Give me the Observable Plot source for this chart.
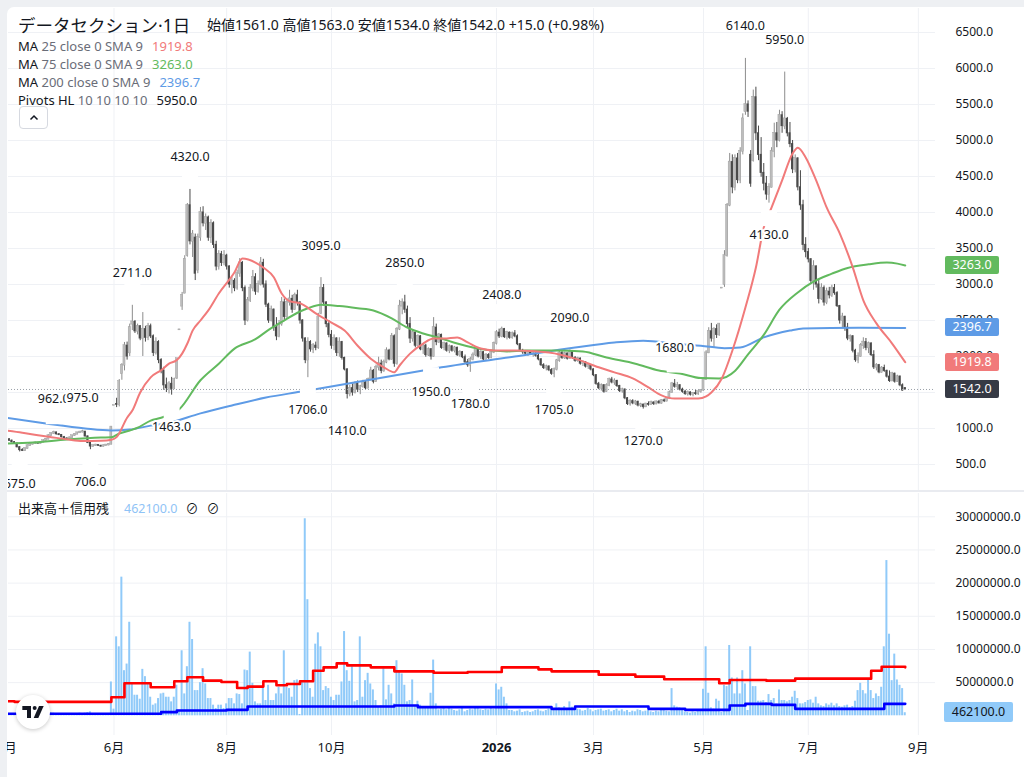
<!DOCTYPE html>
<html><head><meta charset="utf-8">
<script src="https://cdn.jsdelivr.net/npm/d3@7"></script>
<script src="https://cdn.jsdelivr.net/npm/@observablehq/plot@0.6"></script>
<style>
html,body{margin:0;padding:0;}
body{width:1024px;height:777px;overflow:hidden;background:#eef0f3;position:relative;font-family:"Noto Sans","Noto Sans CJK JP",sans-serif;color:#131722;}
#panel{position:absolute;left:7px;top:7px;width:1017px;height:770px;background:#fff;border-top-left-radius:7px;}
.abs{position:absolute;white-space:nowrap;}
#mainWrap,#volWrap{position:absolute;left:0;width:1024px;}
#mainWrap{top:0;height:492px;}
#volWrap{top:493px;height:284px;}
svg{overflow:visible}
#sep{position:absolute;left:7px;top:490px;width:1017px;height:2px;background:#e9ebf0;}
.badge{position:absolute;height:18px;line-height:18px;text-align:center;font-size:12.5px;color:#fff;border-radius:2px;}
#edgeL{position:absolute;left:0;top:0;width:7px;height:777px;background:#eef0f3;}
#edgeT{position:absolute;left:0;top:0;width:1024px;height:7px;background:#eef0f3;}
.gray{color:#6a6d78;}
</style></head><body>
<div id="panel"></div>
<div id="mainWrap"></div>
<div id="sep"></div>
<div id="volWrap"></div>
<div id="header"></div>
<div id="edgeL"></div><div id="edgeT"></div>
<script>
// ---------- data ----------
const titleText = "データセクション·1日";
const ohlcLabels = ["始値","高値","安値","終値"];
const ohlcValues = [1561.0, 1563.0, 1534.0, 1542.0];
const changeText = "+15.0 (+0.98%)";
const legendNames = ["MA","MA","MA","Pivots HL"];
const legendParams = ["25 close 0 SMA 9","75 close 0 SMA 9","200 close 0 SMA 9","10 10 10 10"];
const legendValues = ["1919.8","3263.0","2396.7","5950.0"];
const volTitle = "出来高＋信用残";
const volValueText = "462100.0";

const opens = [
870,850,830,810,790,740,700,690,720,760, 780,790,800,790,810,830,850,900,930,945,
920,910,880,860,850,870,900,920,940,950, 955,890,800,750,760,770,760,750,760,770,
780,1320,1340,1330,1760,1880,2150,2050,2450,2480, 2350,2420,2250,2380,2260,2420,2280,2050,2200,1950,
1800,1600,1560,1620,1560,1700,2370,2700,2880,3400, 4100,3600,3650,3200,3650,4000,3850,3930,3650,3850,
3550,3250,3420,3300,3400,3250,3000,3050,2950,3150, 3300,2950,2500,2780,2950,3100,2900,3000,3300,3000,
2720,2500,2650,2400,2280,2450,2750,2550,2750,2800, 2650,2850,2750,2500,2250,1950,2200,2100,2150,2120,
2600,2950,2750,2450,2300,2150,2250,2050,2200,1980, 1820,1480,1560,1500,1620,1540,1580,1640,1560,1680,
1800,1650,1850,1900,1800,1920,2080,1960,2280,1900, 2380,2700,2750,2650,2450,2250,2330,2150,2280,2100,
2150,2020,2100,2000,2400,2200,2300,2120,2180,2080, 2140,2080,2120,2020,2060,1990,1920,1880,1960,2020,
2100,2000,2060,1960,2020,1980,2060,2180,2330,2280, 2380,2270,2330,2260,2320,2280,2170,2080,2060,2040,
2050,2030,2040,2010,1960,1880,1840,1860,1810,1760, 1820,1940,2050,1980,2040,1970,2060,1980,1940,1970,
1900,1920,1860,1880,1820,1740,1620,1560,1600,1510, 1600,1680,1640,1660,1590,1520,1540,1420,1340,1380,
1350,1370,1320,1330,1300,1340,1330,1360,1340,1370, 1350,1390,1380,1420,1500,1620,1580,1600,1540,1510,
1480,1500,1470,1490,1480,1510,1530,1680,2050,2350, 2250,2380,2300,2950,3000,3400,4100,4700,4350,4750,
4450,4850,5400,5500,4800,4720,5600,5100,4800,4550, 4400,4250,4350,4850,5100,5000,5350,5200,5300,5100,
4950,4600,4750,4350,4100,3550,3450,3350,3050,3250, 3000,2800,2950,2750,2900,2850,2950,2880,2700,2500,
2550,2400,2250,2280,2080,1950,2000,2150,2200,2120, 2180,2020,1850,1880,1780,1840,1800,1720,1660,1760,
1650,1720,1600,1561];
const highs = [
885,860,840,815,795,750,720,730,770,790, 800,810,805,820,840,860,910,940,962,950,
930,915,890,870,880,905,925,945,960,975, 960,895,810,775,780,775,765,770,780,790,
1020,1320,1420,1680,1900,2195,2200,2450,2711,2500, 2450,2430,2610,2420,2460,2450,2300,2260,2220,1970,
1850,1700,1650,1710,1700,1970,2370,2890,3400,4125, 4320,3750,3700,3700,4070,4080,3980,3950,3900,3870,
3600,3470,3460,3470,3420,3260,3100,3080,3200,3360, 3320,2980,2820,3000,3195,3150,3050,3375,3350,3050,
2740,2700,2660,2540,2500,2820,2800,2800,2920,2850, 2880,2920,2760,2510,2260,2260,2220,2180,2200,2600,
3095,3000,2760,2500,2360,2300,2260,2260,2210,1990, 1830,1600,1620,1650,1660,1600,1670,1660,1700,1850,
1820,1880,1990,1950,1950,2120,2100,2320,2300,2400, 2780,2800,2850,2700,2540,2360,2340,2300,2290,2180,
2170,2120,2110,2540,2450,2320,2310,2200,2190,2160, 2150,2140,2130,2080,2070,2020,1960,1990,2050,2120,
2110,2080,2070,2040,2040,2080,2200,2360,2380,2408, 2390,2350,2340,2340,2360,2300,2180,2100,2080,2070,
2080,2060,2050,2030,1970,1900,1880,1870,1830,1840, 1960,2080,2070,2060,2050,2090,2070,2000,1990,1980,
1940,1930,1900,1890,1830,1750,1640,1620,1610,1620, 1700,1710,1690,1670,1600,1560,1550,1430,1400,1400,
1390,1380,1350,1340,1350,1370,1380,1370,1380,1390, 1400,1410,1430,1520,1640,1680,1640,1610,1560,1530,
1520,1510,1500,1530,1520,1540,1700,2080,2400,2460, 2400,2440,2460,2950,3470,4125,4820,4800,4800,4820,
4900,5370,6140,5550,4860,5700,5740,5200,5040,4680, 4500,4400,4900,5240,5250,5420,5400,5950,5320,5250,
5000,4800,4760,4580,4170,3650,3500,3360,3330,3260, 3055,3010,2980,2950,2960,2990,3000,2900,2710,2600,
2560,2460,2300,2290,2100,2050,2180,2260,2250,2200, 2190,2080,1900,1890,1860,1880,1810,1800,1780,1770,
1740,1730,1620,1563];
const lows = [
840,820,800,780,730,675,680,685,715,750, 770,780,780,785,805,825,845,890,920,910,
900,870,850,840,845,865,890,915,930,940, 880,790,706,740,750,750,740,745,755,760,
775,1320,1290,1300,1670,1800,1950,2000,2360,2320, 2300,2220,2000,2200,2220,2250,2000,2020,1900,1760,
1530,1500,1480,1463,1540,1680,2370,2640,2870,3380, 3550,3375,3055,3150,3600,3800,3750,3600,3570,3500,
3190,3200,3250,3260,3200,2950,2870,2900,2920,3100, 2900,2430,2480,2750,2900,2850,2880,2980,2950,2680,
2460,2480,2350,2220,2260,2420,2500,2530,2700,2600, 2640,2700,2450,2200,1900,1706,2060,2040,2080,2100,
2580,2700,2400,2260,2100,2080,2000,1990,1950,1800, 1410,1440,1450,1480,1500,1470,1560,1540,1550,1660,
1620,1640,1800,1760,1780,1900,1940,1950,1850,1880, 2360,2580,2600,2400,2180,2200,2120,2130,2080,2030,
1990,2000,1950,1990,2150,2180,2100,2080,2060,2040, 2060,2050,2000,1990,1970,1900,1850,1780,1940,2000,
1980,1960,1940,1950,1960,1970,2040,2160,2250,2260, 2250,2230,2240,2240,2260,2150,2060,2030,2010,2000,
2020,1990,1990,1940,1860,1820,1800,1790,1740,1705, 1800,1920,1960,1960,1950,1960,1960,1920,1920,1880,
1860,1840,1820,1800,1720,1600,1540,1520,1490,1500, 1580,1620,1600,1570,1500,1490,1400,1320,1310,1330,
1320,1300,1290,1270,1290,1310,1320,1320,1330,1340, 1340,1360,1370,1410,1490,1560,1540,1520,1490,1460,
1450,1450,1440,1460,1460,1490,1520,1670,2040,2200, 2125,2250,2280,2950,2960,3380,4080,4260,4300,4400,
4400,4800,5350,5320,4350,4700,5000,4720,4490,4300, 4170,4130,4340,4760,4900,4980,5100,5150,5050,4900,
4540,4550,4300,4030,3470,3370,3300,3000,2920,2950, 2730,2780,2700,2720,2800,2820,2850,2680,2450,2400,
2350,2220,2200,2050,1920,1900,1990,2100,2080,2040, 2000,1820,1800,1760,1770,1780,1700,1640,1650,1630,
1640,1580,1520,1534];
const closes = [
850,830,810,790,740,700,690,720,760,780, 790,800,790,810,830,850,900,930,945,920,
910,880,860,850,870,900,920,940,950,955, 890,800,750,760,770,760,750,760,770,780,
1020,1320,1330,1650,1880,2150,2000,2400,2480,2350, 2420,2250,2380,2260,2420,2280,2050,2200,1950,1800,
1600,1560,1620,1550,1680,1970,2370,2850,3350,4100, 3600,3700,3150,3650,4000,3850,3930,3650,3850,3550,
3250,3420,3300,3400,3250,3000,3050,2950,3150,3300, 2950,2500,2780,2950,3100,2900,3000,3300,3000,2720,
2500,2650,2400,2280,2450,2750,2550,2750,2800,2650, 2850,2750,2500,2250,1950,2200,2100,2150,2120,2550,
2950,2750,2450,2300,2150,2250,2050,2200,1980,1820, 1480,1560,1500,1620,1540,1580,1640,1560,1680,1800,
1650,1850,1900,1800,1920,2080,1960,2280,1900,2380, 2700,2750,2650,2450,2250,2330,2150,2280,2100,2150,
2020,2100,2000,2400,2200,2300,2120,2180,2080,2140, 2080,2120,2020,2060,1990,1920,1880,1960,2020,2100,
2000,2060,1960,2020,1980,2060,2180,2330,2280,2380, 2270,2330,2260,2320,2280,2170,2080,2060,2040,2050,
2030,2040,2010,1960,1880,1840,1860,1810,1760,1820, 1940,2050,1980,2040,1970,2060,1980,1940,1970,1900,
1920,1860,1880,1820,1740,1620,1560,1600,1510,1600, 1680,1640,1660,1590,1520,1540,1420,1340,1380,1350,
1370,1320,1330,1300,1340,1330,1360,1340,1370,1350, 1390,1380,1420,1500,1620,1580,1600,1540,1510,1480,
1500,1470,1490,1480,1510,1530,1680,2050,2350,2250, 2380,2300,2450,2950,3400,4100,4700,4350,4750,4450,
4850,5300,5500,5400,4400,5600,5100,4800,4550,4400, 4250,4350,4850,5100,5000,5350,5200,5300,5100,4950,
4600,4750,4350,4100,3550,3450,3350,3050,3250,3000, 2800,2950,2750,2900,2850,2950,2880,2700,2500,2550,
2400,2250,2280,2080,1950,2000,2150,2200,2120,2180, 2020,1850,1880,1780,1840,1800,1720,1660,1760,1650,
1720,1600,1527,1542];
// volume in millions of shares
const volumeM = [
0.3,0.25,0.2,0.3,0.35,0.4,0.3,0.25,0.3,0.35, 0.2,0.2,0.25,0.3,0.35,0.4,0.5,0.45,0.4,0.3,
0.25,0.2,0.2,0.25,0.3,0.35,0.3,0.35,0.4,0.3, 0.4,0.5,0.6,0.35,0.3,0.25,0.2,0.25,0.3,0.35,
5.1,1.0,11.9,10.4,20.9,6.8,7.8,14.1,4.8,3.1, 3.1,2.5,7.0,5.9,4.8,2.8,1.6,1.8,2.6,3.3,
3.4,2.8,2.8,2.1,2.8,4.6,0.8,9.8,3.3,7.4, 14.1,11.5,3.8,3.8,5.0,7.1,4.8,2.6,2.6,1.6,
1.1,1.6,1.6,1.1,1.8,2.6,2.6,1.8,3.3,3.2, 1.8,6.9,6.8,9.6,4.9,2.1,1.8,1.8,4.3,2.3,
4.6,2.3,2.3,3.3,4.3,3.3,9.8,4.3,4.1,2.8, 5.3,5.4,0.2,5.3,29.7,17.5,4.1,2.8,10.8,12.5,
10.4,3.8,4.4,4.1,2.8,2.3,3.1,3.1,5.1,12.7, 6.8,5.2,7.4,2.1,2.3,11.9,2.8,5.3,6.4,4.8,
3.9,2.3,1.3,1.5,7.1,2.4,4.6,3.3,1.8,8.3, 6.6,6.3,4.6,2.1,2.3,5.4,1.6,2.2,1.6,1.3,
1.1,1.1,3.4,8.4,1.8,0.9,1.0,1.1,0.9,1.2, 1.0,0.8,0.7,0.9,1.3,0.6,0.8,1.0,0.9,1.4,
1.2,0.9,0.8,1.0,0.9,1.1,1.0,4.8,3.9,4.3, 2.8,1.8,0.8,0.8,0.6,0.7,0.9,0.5,0.6,0.7,
0.5,0.6,0.8,0.9,0.7,0.6,0.8,1.0,0.9,1.1, 1.8,1.2,0.9,1.4,1.0,2.1,1.3,0.8,1.0,0.9,
0.7,0.8,1.1,0.9,0.6,0.8,0.9,1.0,0.7,0.8, 0.9,0.6,0.8,1.0,0.7,0.9,0.6,0.8,0.5,0.7,
0.6,0.9,0.8,0.6,0.7,0.8,0.6,0.5,0.7,0.6, 0.8,0.9,0.7,0.6,4.1,1.5,1.3,1.2,1.0,0.6,
0.5,0.4,0.6,0.5,0.7,0.8,4.0,10.4,3.4,1.2, 1.0,2.5,2.2,0.5,4.6,4.4,10.6,5.7,3.3,5.7,
3.3,6.8,4.8,0.8,10.4,4.4,4.4,2.2,2.2,2.3, 2.0,3.2,2.3,2.6,1.8,3.9,2.3,2.3,2.1,2.3,
2.8,3.7,2.6,1.8,1.8,2.0,2.3,2.4,1.9,2.8, 1.8,1.5,1.4,1.8,1.6,1.9,1.5,1.8,1.4,1.3,
1.5,1.6,1.2,1.4,2.2,3.8,4.9,3.8,3.3,5.4, 3.8,2.6,3.3,2.9,4.3,10.4,23.4,12.3,5.3,9.3,
5.4,4.6,4.1,0.4621];

// moving averages: bar index / value
const ma25Idx = [0,6,12,17,23,29,36,40,42,46,48,51,55,59,62,65,67,69,71,74,77,81,87,90,95,98,102,105,108,112,118,124,129,134,139,144,148,150,154,159,163,167,172,176,181,186,194,207,217,226,232,239,245,250,255,264,267,269,273,277,282,286,289,292,296,300,302,305,309,313,318,323,327,332,338,343];
const ma25Val = [970,940,905,880,850,825,830,845,880,1150,1250,1500,1710,1810,1900,1950,2040,2180,2360,2500,2640,2875,3170,3360,3305,3235,3100,2875,2770,2740,2600,2470,2360,2150,1970,1850,1780,1875,2040,2180,2250,2250,2265,2195,2110,2085,2085,2055,1970,1850,1780,1695,1570,1460,1415,1415,1445,1500,1695,2080,2680,3235,3790,4070,4445,4820,4900,4765,4445,4070,3710,3235,2780,2460,2180,1920];
const ma75Idx = [0,10,23,36,40,43,47,50,55,59,66,74,81,87,95,100,105,112,115,120,127,134,140,147,153,159,166,172,178,185,191,198,210,220,229,240,249,257,265,272,278,283,289,295,302,308,315,321,329,336,340,343];
const ma75Val = [790,805,847,875,878,930,972,1010,1110,1150,1270,1670,1900,2110,2240,2370,2480,2625,2670,2720,2700,2670,2640,2530,2400,2320,2250,2180,2125,2085,2070,2085,2085,2070,1985,1900,1805,1765,1700,1695,1800,2030,2300,2650,2890,3040,3150,3230,3280,3305,3290,3263];
const ma200Idx = [0,15,30,40,47,55,61,74,86,99,112,125,159,166,194,217,232,243,257,265,274,280,289,299,304,325,343];
const ma200Val = [1150,1070,1000,972,985,1040,1070,1210,1320,1430,1510,1590,1805,1850,2000,2125,2195,2220,2170,2150,2115,2125,2265,2360,2390,2400,2397];

// margin balances (step lines), millions of shares
const buyIdx = [0,3,40,45,55,64,69,75,82,88,92,98,103,107,112,117,121,126,130,139,148,163,176,189,203,208,226,240,251,272,276,290,301,330,334,343];
const buyVal = [2.2,2.1,2.8,4.9,4.3,5.2,5.8,5.3,5.1,4.2,4.4,5.2,4.6,4.8,5.2,6.8,7.3,7.9,7.6,7.3,6.7,6.5,6.6,7.3,7.0,6.7,6.2,5.9,5.5,4.9,5.4,5.3,5.6,6.8,7.4,7.3];
const sellIdx = [0,59,65,84,92,148,157,208,217,245,259,276,282,292,301,335,343];
const sellVal = [0.3,0.55,0.8,0.9,1.4,1.55,1.3,1.05,1.4,1.05,0.9,1.55,1.8,1.65,1.05,1.8,1.8];

// pivots
const pivotIdx = [5,18,29,32,48,63,70,115,120,130,152,162,177,189,209,215,243,255,282,291,297];
const pivotVal = [675,962,975,706,2711,1463,4320,1706,3095,1410,2850,1950,1780,2408,1705,2090,1270,1680,6140,4130,5950];
const pivotKind = ["L","H","H","L","H","L","H","L","H","L","H","L","L","H","L","H","L","H","H","L","H"];

// axes
const priceGrid = [500,1000,1500,2000,2500,3000,3500,4000,4500,5000,5500,6000,6500];
const priceTickLabels = [500,1000,2000,2500,3000,3500,4000,4500,5000,5500,6000,6500]; // 1500.0 sits fully under the last-price badge
const volTicks = [5e6,10e6,15e6,20e6,25e6,30e6];
const monthIdx = [0,41,84,124,187,224,266,306,348];
const monthLabels = ["4月","6月","8月","10月","2026","3月","5月","7月","9月"];

// last values (badges)
const lastMA25 = 1919.8, lastMA75 = 3263.0, lastMA200 = 2396.7, lastClose = 1542.0, lastVolume = 462100;

// ---------- styles ----------
const C25 = "#f17a7a", C75 = "#62ba5e", C200 = "#5e9be6", GRID = "#eff1f5";
const FONT = '"Noto Sans","Noto Sans CJK JP",sans-serif';
const xDomain = [0.733, 354.55];

const N = closes.length;
const bars = d3.range(N).map(i => ({i, o: opens[i], h: highs[i], l: lows[i], c: closes[i], v: volumeM[i]}));
const up = bars.filter(d => d.c >= d.o);
const down = bars.filter(d => d.c < d.o);
const pts = (ix, vs, k = 1) => ix.map((x, j) => ({x, y: vs[j] * k}));
const pv = pivotIdx.map((x, j) => ({x, y: pivotVal[j], kind: pivotKind[j]}));
const pvH = pv.filter(d => d.kind === "H"), pvL = pv.filter(d => d.kind === "L");

const main = Plot.plot({
  width: 1024, height: 492, marginLeft: 8, marginRight: 89, marginTop: 8, marginBottom: 2,
  x: {domain: xDomain, axis: null},
  y: {domain: [139, 6833], axis: null},
  style: {background: "transparent", fontFamily: FONT, overflow: "visible"},
  marks: [
    Plot.ruleY(priceGrid, {stroke: GRID}),
    Plot.ruleX(monthIdx, {stroke: GRID, clip: true}),
    Plot.axisY(priceTickLabels, {anchor: "right", tickSize: 0, tickPadding: 20, tickFormat: d => d.toFixed(1), fontSize: 12, fill: "#131722", label: null}),
    Plot.ruleX(up, {x: "i", y1: "l", y2: "h", stroke: "#8c8c8c", strokeWidth: 1, clip: true}),
    Plot.ruleX(down, {x: "i", y1: "l", y2: "h", stroke: "#4a4a4a", strokeWidth: 1, clip: true}),
    Plot.rect(up, {x1: d => d.i - 0.4, x2: d => d.i + 0.4, y1: "o", y2: "c", fill: "#bdbdbd", stroke: "#999", strokeWidth: 0.4, insetTop: -0.5, insetBottom: -0.5, clip: true}),
    Plot.rect(down, {x1: d => d.i - 0.4, x2: d => d.i + 0.4, y1: "o", y2: "c", fill: "#4a4a4a", insetTop: -0.5, insetBottom: -0.5, clip: true}),
    Plot.line(pts(ma200Idx, ma200Val), {x: "x", y: "y", stroke: C200, strokeWidth: 2, curve: "monotone-x", clip: true}),
    Plot.line(pts(ma75Idx, ma75Val), {x: "x", y: "y", stroke: C75, strokeWidth: 2, curve: "monotone-x", clip: true}),
    Plot.line(pts(ma25Idx, ma25Val), {x: "x", y: "y", stroke: C25, strokeWidth: 2, curve: "monotone-x", clip: true}),
    Plot.ruleY([lastClose], {stroke: "#9aa0a8", strokeDasharray: "1,2"}),
    Plot.dot(pvH, {x: "x", y: "y", dy: -15, r: 9, symbol: "square", fill: "white", clip: true}),
    Plot.dot(pvL, {x: "x", y: "y", dy: 15, r: 9, symbol: "square", fill: "white", clip: true}),
    Plot.text(pvH, {x: "x", y: "y", dy: -32, text: d => d.y.toFixed(1), fontSize: 12.5, fill: "#131722", stroke: "white", strokeWidth: 4, clip: true}),
    Plot.text(pvL, {x: "x", y: "y", dy: 32, text: d => d.y.toFixed(1), fontSize: 12.5, fill: "#131722", stroke: "white", strokeWidth: 4, clip: true})
  ]
});
document.getElementById("mainWrap").appendChild(main);

const monthsNoYear = monthIdx.map((x, j) => ({x, t: monthLabels[j]})).filter(d => !/^\d{4}$/.test(d.t));
const years = monthIdx.map((x, j) => ({x, t: monthLabels[j]})).filter(d => /^\d{4}$/.test(d.t));

const vol = Plot.plot({
  width: 1024, height: 284, marginLeft: 8, marginRight: 89, marginTop: 0, marginBottom: 42,
  x: {domain: xDomain, axis: null},
  y: {domain: [-2.97e6, 33.51e6], axis: null},
  style: {background: "transparent", fontFamily: FONT, overflow: "visible"},
  marks: [
    Plot.ruleY(volTicks, {stroke: GRID}),
    Plot.ruleX(monthIdx, {stroke: GRID, clip: true}),
    Plot.axisY(volTicks, {anchor: "right", tickSize: 0, tickPadding: 20, tickFormat: d => d.toFixed(1), fontSize: 12, fill: "#131722", label: null}),
    Plot.rect(bars, {x1: d => d.i - 0.38, x2: d => d.i + 0.38, y1: 0, y2: d => d.v * 1e6, fill: "#90caf9", clip: true}),
    Plot.line(pts(buyIdx, buyVal, 1e6), {x: "x", y: "y", curve: "step-after", stroke: "#ff0000", strokeWidth: 2.6, clip: true}),
    Plot.line(pts(sellIdx, sellVal, 1e6), {x: "x", y: "y", curve: "step-after", stroke: "#0000ff", strokeWidth: 2.6, clip: true}),
    Plot.text(monthsNoYear, {x: "x", text: "t", frameAnchor: "bottom", dy: 16, fontSize: 13, fill: "#131722"}),
    Plot.text(years, {x: "x", text: "t", frameAnchor: "bottom", dy: 16, fontSize: 13, fontWeight: "bold", fill: "#131722"})
  ]
});
document.getElementById("volWrap").appendChild(vol);

// ---------- badges on the price scales ----------
const yMain = main.scale("y"), yVol = vol.scale("y");
function badge(top, left, w, bg, color, text, h) {
  const d = document.createElement("div");
  d.className = "badge";
  d.style.cssText += `top:${top}px;left:${left}px;width:${w}px;background:${bg};color:${color};height:${h}px;line-height:${h}px;`;
  d.textContent = text;
  document.body.appendChild(d);
}
[[lastMA75, C75], [lastMA200, C200], [lastMA25, C25], [lastClose, "#363a45"]].forEach(([v, c]) => {
  badge(yMain.apply(v) - 9, 945, 54, c, "#fff", v.toFixed(1), 18);
});
badge(493 + yVol.apply(lastVolume) - 10, 944, 69, "#90caf9", "#131722", lastVolume.toFixed(1), 20);

// ---------- header / legends ----------
const H = document.getElementById("header");
function add(html, css) { const d = document.createElement("div"); d.className = "abs"; d.style.cssText = css; d.innerHTML = html; H.appendChild(d); }
add(titleText, "left:18px;top:13px;font-size:17.5px;line-height:24px;");
add(ohlcLabels.map((l, j) => l + ohlcValues[j].toFixed(1)).join(" ") + " " + changeText, "left:207px;top:16px;font-size:14px;line-height:18px;");
const legendColors = [C25, C75, C200, "#131722"];
legendNames.forEach((n, j) => {
  add(`${n} <span class="gray">${legendParams[j]}</span><span style="color:${legendColors[j]};margin-left:9px">${legendValues[j]}</span>`,
      `left:18px;top:${37 + j * 18}px;font-size:13px;line-height:18px;`);
});
add(`<svg width="10" height="7" viewBox="0 0 10 7"><polyline points="1.5,5.5 5,2 8.5,5.5" fill="none" stroke="#131722" stroke-width="1.5"/></svg>`,
    "left:19px;top:106px;width:27px;height:21px;border:1px solid #d6d9e0;border-radius:4px;display:flex;align-items:center;justify-content:center;background:#fff;");
add(`${volTitle}<span style="color:#8fc3f6;margin-left:15px;font-size:12.5px">${volValueText}</span><span style="margin-left:8px">⊘</span><span style="margin-left:8px">⊘</span>`,
    "left:18px;top:499px;font-size:13px;line-height:18px;");
// TradingView logo
add(`<svg width="24" height="16" viewBox="0 0 36 24"><path d="M2 3h13v18H9V9H2z" fill="#131722"/><circle cx="20.5" cy="6" r="3" fill="#131722"/><path d="M27 3h7l-8 18h-7z" fill="#131722"/></svg>`,
    "left:16px;top:695px;width:34px;height:34px;border-radius:50%;background:#fff;box-shadow:0 1px 4px rgba(0,0,0,0.22);display:flex;align-items:center;justify-content:center;");
</script>
</body></html>
